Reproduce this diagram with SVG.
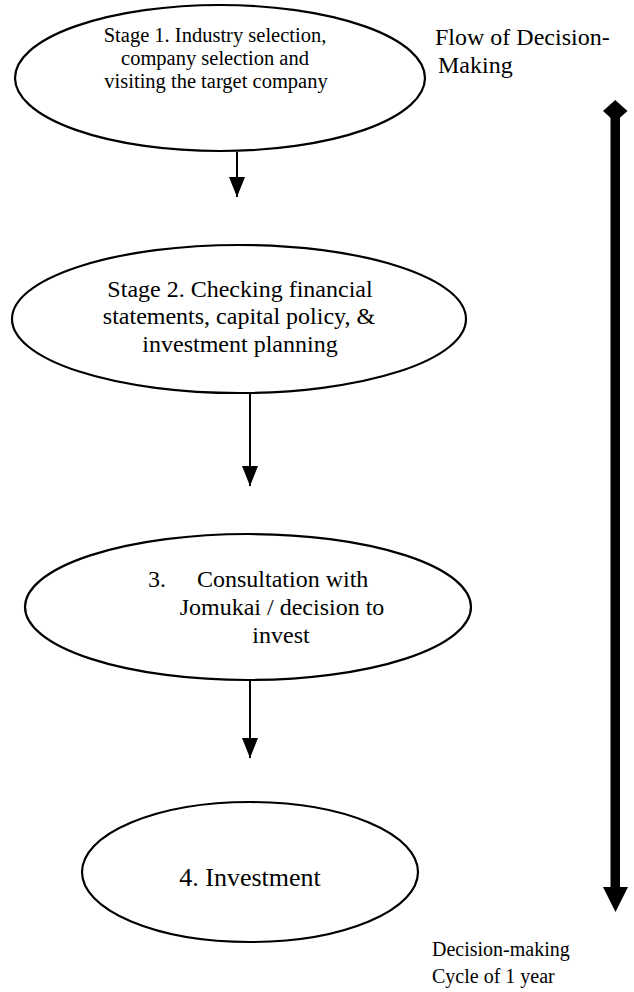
<svg xmlns="http://www.w3.org/2000/svg" width="634" height="992" viewBox="0 0 634 992">
  <style>
    .stage { fill: #fff; stroke: #000; stroke-width: 2.2; }
    .lbl { font-family: "Liberation Serif", "Times New Roman", serif; fill: #000; }
    .mid { text-anchor: middle; }
    .link { stroke: #000; stroke-width: 2; fill: none; }
  </style>
  <defs>
    <marker id="tri" viewBox="0 0 20 16" refX="20" refY="8" markerWidth="20" markerHeight="16" markerUnits="userSpaceOnUse" orient="auto">
      <path d="M0,0 L20,8 L0,16 Z" fill="#000"/>
    </marker>
  </defs>

  <rect width="634" height="992" fill="#fff"/>

  <!-- decision stages -->
  <g id="stage1">
    <ellipse class="stage" cx="220" cy="78" rx="205" ry="73"/>
    <text class="lbl mid" font-size="20.5" x="215" y="42">Stage 1. Industry selection,</text>
    <text class="lbl mid" font-size="20.5" x="215" y="65">company selection and</text>
    <text class="lbl mid" font-size="20.5" x="216" y="88">visiting the target company</text>
  </g>

  <g id="stage2">
    <ellipse class="stage" cx="239" cy="319" rx="227" ry="74"/>
    <text class="lbl mid" font-size="24" x="240" y="297">Stage 2. Checking financial</text>
    <text class="lbl mid" font-size="24" x="239" y="324">statements, capital policy, &amp;</text>
    <text class="lbl mid" font-size="24" x="240" y="352">investment planning</text>
  </g>

  <g id="stage3">
    <ellipse class="stage" cx="248" cy="607" rx="223" ry="73"/>
    <text class="lbl" font-size="24" x="148" y="587">3.</text>
    <text class="lbl" font-size="24" x="197" y="587">Consultation with</text>
    <text class="lbl mid" font-size="24" x="282" y="615">Jomukai / decision to</text>
    <text class="lbl mid" font-size="24" x="281" y="643">invest</text>
  </g>

  <g id="stage4">
    <ellipse class="stage" cx="250" cy="872" rx="168" ry="70"/>
    <text class="lbl mid" font-size="26" x="250" y="886">4. Investment</text>
  </g>

  <!-- side annotations -->
  <g id="flow-label">
    <text class="lbl" font-size="24" x="435" y="45">Flow of Decision-</text>
    <text class="lbl" font-size="24" x="438" y="73">Making</text>
  </g>

  <g id="cycle-label">
    <text class="lbl" font-size="20" x="432" y="956">Decision-making</text>
    <text class="lbl" font-size="20" x="432" y="983">Cycle of 1 year</text>
  </g>

  <!-- timeline bar: diamond start, arrow end -->
  <g id="timeline">
    <rect x="610.5" y="115" width="9.5" height="775" fill="#000"/>
    <path d="M615.2,100 L627.5,111 L615.2,122 L603,111 Z" fill="#000"/>
    <path d="M603,887 L628,887 L615.5,912 Z" fill="#000"/>
  </g>

  <!-- connectors between stages -->
  <g id="connectors">
    <line class="link" x1="237" y1="152" x2="237" y2="197" marker-end="url(#tri)"/>
    <line class="link" x1="250" y1="393" x2="250" y2="486" marker-end="url(#tri)"/>
    <line class="link" x1="250" y1="681" x2="250" y2="758" marker-end="url(#tri)"/>
  </g>
</svg>
